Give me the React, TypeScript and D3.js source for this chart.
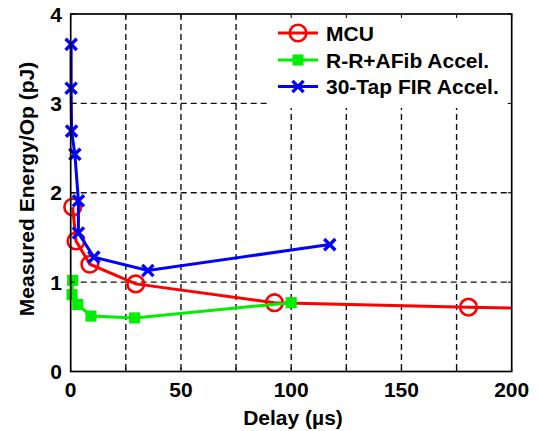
import React from 'react';
import * as d3 from 'd3';

const mcuDelay = [0.9, 2.4, 8.7, 29.5, 92.4, 180.4];
const mcuEnergy = [1.84, 1.46, 1.2, 0.98, 0.77, 0.72];
// where the red line leaves the plot on the right edge (no marker)
const mcuTail = [200, 0.71];

const afibDelay = [0.9, 0.6, 3.2, 9.2, 29, 100];
const afibEnergy = [1.02, 0.86, 0.75, 0.62, 0.6, 0.77];

const firDelay = [0.2, 0.2, 0.4, 1.9, 3.5, 3.5, 10.5, 35, 117.5];
const firEnergy = [3.66, 3.17, 2.69, 2.43, 1.91, 1.55, 1.28, 1.13, 1.42];

const xTickLabels = [0, 50, 100, 150, 200];
const yTickLabels = [0, 1, 2, 3, 4];
const legendNames = ['MCU', 'R-R+AFib Accel.', '30-Tap FIR Accel.'];

const width = 539, height = 431;
const left = 70.7, right = 511.7, top = 14, bottom = 371.5;
const font = 'Liberation Sans, Arial, Helvetica, sans-serif';

const zip = (xs: number[], ys: number[]) => xs.map((x, i) => [x, ys[i]] as [number, number]);

function Marker({ kind, x, y, color }: { kind: string, x: number, y: number, color: string }) {
  if (kind === 'circle') {
    return <circle cx={x} cy={y} r={8.3} fill="none" stroke={color} strokeWidth={2.6} />;
  }
  if (kind === 'square') {
    return <rect x={x - 4.8} y={y - 4.8} width={9.6} height={9.6} fill={color} stroke={color} strokeWidth={1.5} />;
  }
  const s = 5.6;
  return (
    <path d={`M${x - s},${y - s}L${x + s},${y + s}M${x - s},${y + s}L${x + s},${y - s}`}
          stroke={color} strokeWidth={3.4} />
  );
}

export default function App() {
  const x = d3.scaleLinear().domain([0, 200]).range([left, right]);
  const y = d3.scaleLinear().domain([0, 4]).range([bottom, top]);
  const line = d3.line<[number, number]>().x(d => x(d[0])).y(d => y(d[1]));

  const series = [
    { pts: zip(mcuDelay, mcuEnergy), tail: [mcuTail as [number, number]], color: '#ff0000', kind: 'circle' },
    { pts: zip(afibDelay, afibEnergy), tail: [], color: '#00ee00', kind: 'square' },
    { pts: zip(firDelay, firEnergy), tail: [], color: '#0000ff', kind: 'x' },
  ];

  const xGrid = d3.range(25, 200, 25);
  const yGrid = d3.range(1, 4, 1);
  const xTicks = d3.range(0, 201, 25);

  const legX = 270, legRowY = [33, 60, 86.5];

  return (
    <svg width={width} height={height} style={{ position: 'absolute', left: 0, top: 0, background: '#fff' }}
         fontFamily={font} fontWeight="bold">
      <rect x={left} y={top} width={right - left} height={bottom - top} fill="#fff" />
      {xGrid.map(v => (
        <line key={'gx' + v} x1={x(v)} x2={x(v)} y1={top} y2={bottom}
              stroke="#111" strokeWidth={1.4} strokeDasharray="6,4" />
      ))}
      {yGrid.map(v => (
        <line key={'gy' + v} x1={left} x2={right} y1={y(v)} y2={y(v)}
              stroke="#111" strokeWidth={1.4} strokeDasharray="6,4" />
      ))}

      {series.map((s, i) => (
        <g key={'s' + i}>
          <path d={line([...s.pts, ...s.tail]) || ''} fill="none" stroke={s.color} strokeWidth={3} />
          {s.pts.map((p, j) => <Marker key={j} kind={s.kind} x={x(p[0])} y={y(p[1])} color={s.color} />)}
        </g>
      ))}

      {/* legend */}
      <rect x={legX} y={top + 1} width={right - legX - 1} height={93} fill="#fff" />
      {series.map((s, i) => (
        <g key={'l' + i}>
          <line x1={278} x2={318} y1={legRowY[i]} y2={legRowY[i]} stroke={s.color} strokeWidth={3} />
          <Marker kind={s.kind} x={298} y={legRowY[i]} color={s.color} />
          <text x={326} y={legRowY[i]} dy="0.36em" fontSize={21} fill="#000">{legendNames[i]}</text>
        </g>
      ))}

      {/* ticks & box */}
      {xTicks.map(v => (
        <g key={'tx' + v}>
          <line x1={x(v)} x2={x(v)} y1={bottom} y2={bottom - 4} stroke="#000" strokeWidth={1} />
          <line x1={x(v)} x2={x(v)} y1={top} y2={top + 4} stroke="#000" strokeWidth={1} />
        </g>
      ))}
      {yTickLabels.map(v => (
        <g key={'ty' + v}>
          <line x1={left} x2={left + 4} y1={y(v)} y2={y(v)} stroke="#000" strokeWidth={1} />
          <line x1={right} x2={right - 4} y1={y(v)} y2={y(v)} stroke="#000" strokeWidth={1} />
        </g>
      ))}
      <rect x={left} y={top} width={right - left} height={bottom - top} fill="none" stroke="#000" strokeWidth={1.7} />

      {xTickLabels.map(v => (
        <text key={'xl' + v} x={x(v)} y={397} textAnchor="middle" fontSize={21}>{v}</text>
      ))}
      {yTickLabels.map(v => (
        <text key={'yl' + v} x={62} y={y(v)} dy="0.36em" textAnchor="end" fontSize={21}>{v}</text>
      ))}
      <text x={293} y={424.5} textAnchor="middle" fontSize={21}>Delay (µs)</text>
      <text transform="translate(33.5,189) rotate(-90)" textAnchor="middle" fontSize={21}>
        Measured Energy/Op (pJ)
      </text>
    </svg>
  );
}
